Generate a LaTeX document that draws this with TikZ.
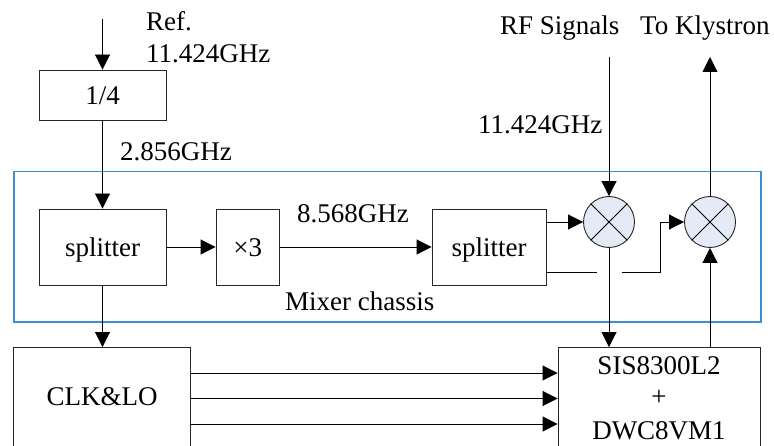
\documentclass[tikz,border=0pt]{standalone}
\usepackage{fontspec}
\setmainfont{Liberation Serif}
\usetikzlibrary{arrows.meta}
\definecolor{chassis}{HTML}{3F8FCF}
\definecolor{mixfill}{HTML}{E4EAF6}
\tikzset{
 block/.style={draw=black!85,line width=0.9pt,inner sep=0pt,align=center,text height=19pt,text depth=0pt,font=\fontsize{27}{30}\selectfont},
 lbl/.style={inner sep=0pt,anchor=base west,font=\fontsize{27}{30}\selectfont},
 mixer/.style={draw=black!85,line width=0.9pt,fill=mixfill,circle,minimum size=51pt,inner sep=0pt},
 arr/.style={draw=black,line width=0.9pt,-{Triangle[length=15pt,width=15pt]}},
 pln/.style={draw=black,line width=0.9pt}
}
\newcommand{\boxat}[6]{\node[block,minimum width=#4-#2,minimum height=#5-#3] (#1) at ({(#2+#4)/2},{(#3+#5)/2}) {#6};}
\begin{document}
\begin{tikzpicture}[x=1pt,y=-1pt]
\useasboundingbox (0,0) rectangle (774,446);
\clip (0,0) rectangle (774,446);
\node[draw=chassis,line width=1.4pt,inner sep=0pt,minimum width=747pt,minimum height=150.5pt] (chassisbox) at (387.5,246.75) {};
\boxat{quarter}{39}{70}{166}{120}{1/4}
\boxat{splita}{39}{209}{166}{285}{splitter}
\boxat{triple}{216}{209}{279.5}{285}{×3}
\boxat{splitb}{432}{209}{546}{285}{splitter}
\boxat{clk}{13.5}{347.5}{190.5}{470}{}
\boxat{sis}{558}{347.5}{760}{470}{}
\node[mixer] (mxa) at (609,222) {};
\node[mixer] (mxb) at (710,222) {};
\foreach \m in {mxa,mxb}{
 \draw[pln] (\m.45) -- (\m.225);
 \draw[pln] (\m.135) -- (\m.315);
}
\coordinate (refin) at (102.5,19);
\coordinate (rfin) at (609,57);
\coordinate (klyout) at (710,57);
\coordinate (gapa) at (597,272);
\coordinate (gapb) at (622,272);
\coordinate (kink) at (660,272);
\draw[arr] (refin) -- (refin |- quarter.north);
\draw[arr] (quarter.south) -- (quarter.south |- splita.north);
\draw[arr] (splita.south) -- (splita.south |- clk.north);
\draw[arr] (splita.east) -- (triple.west);
\draw[arr] (triple.east) -- (splitb.west);
\draw[arr] (splitb.east |- mxa.west) -- (mxa.west);
\draw[pln] (splitb.east |- gapa) -- (gapa);
\draw[arr] (gapb) -- (kink) -- (kink |- mxb.west) -- (mxb.west);
\draw[arr] (rfin) -- (mxa.north);
\draw[arr] (mxb.north) -- (klyout);
\draw[arr] (mxa.south) -- (mxa.south |- sis.north);
\draw[arr] (mxb.south |- sis.north) -- (mxb.south);
\foreach \y in {373,398.5,424}{
 \coordinate (s) at (190.5,\y);
 \draw[arr] (s) -- (s -| sis.west);
}
\node[lbl] (tref) at (146,31) {Ref.};
\node[lbl] (tfreq) at (146,63) {11.424GHz};
\node[lbl] (tdiv) at (120,161) {2.856GHz};
\node[lbl] (tmul) at (297,223) {8.568GHz};
\node[lbl] (tchs) at (285,311) {Mixer chassis};
\node[lbl] (trf) at (500,35) {RF Signals};
\node[lbl] (tkly) at (640,35) {To Klystron};
\node[lbl] (trff) at (478,134) {11.424GHz};
\node[lbl,anchor=base] (tclk) at (102,406) {CLK\&LO};
\node[lbl,anchor=base] (tsisa) at (659,374) {SIS8300L2};
\node[lbl,anchor=base] (tsisb) at (659,406) {+};
\node[lbl,anchor=base] (tsisc) at (659,439) {DWC8VM1};
\end{tikzpicture}
\end{document}
